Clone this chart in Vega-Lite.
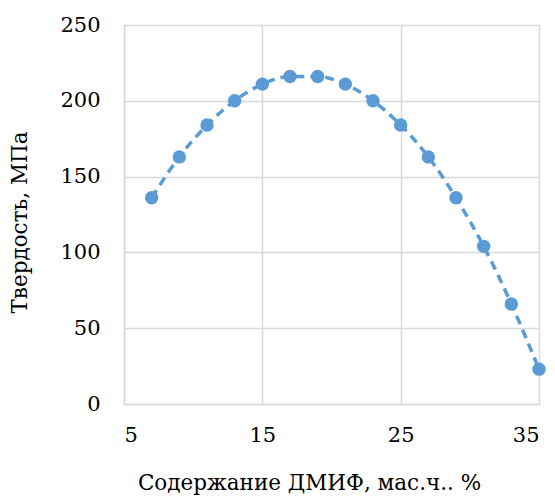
{
  "$schema": "https://vega.github.io/schema/vega-lite/v6.json",
  "autosize": "none",
  "width": 415,
  "height": 379,
  "padding": {"left": 124, "top": 25, "right": 16, "bottom": 93},
  "background": "white",
  "config": {"view": {"stroke": null}, "font": "DejaVu Serif"},
  "data": {"values": [
    {"x": 7, "y": 136}, {"x": 9, "y": 163}, {"x": 11, "y": 184}, {"x": 13, "y": 200},
    {"x": 15, "y": 211}, {"x": 17, "y": 216}, {"x": 19, "y": 216}, {"x": 21, "y": 211},
    {"x": 23, "y": 200}, {"x": 25, "y": 184}, {"x": 27, "y": 163}, {"x": 29, "y": 136},
    {"x": 31, "y": 104}, {"x": 33, "y": 66}, {"x": 35, "y": 23}
  ]},
  "encoding": {
    "x": {"field": "x", "type": "quantitative",
      "scale": {"domain": [5, 35], "nice": false, "zero": false},
      "axis": {"values": [5, 15, 25, 35], "title": "Содержание ДМИФ, мас.ч.. %",
        "labelFont": "DejaVu Serif", "labelFontSize": 21, "labelColor": "#000000",
        "titleFont": "DejaVu Serif", "titleFontSize": 21.5, "titleFontWeight": "normal", "titleColor": "#000000",
        "titleX": 185, "titleY": 85, "titleBaseline": "alphabetic", "titleAlign": "center",
        "ticks": false, "labelPadding": 20,
        "domainColor": "#d9d9d9", "domainWidth": 1.5, "gridColor": "#d9d9d9", "gridWidth": 1.5, "grid": true}},
    "y": {"field": "y", "type": "quantitative",
      "scale": {"domain": [0, 250], "nice": false},
      "axis": {"values": [0, 50, 100, 150, 200, 250], "title": "Твердость, МПа",
        "labelFont": "DejaVu Serif", "labelFontSize": 21, "labelColor": "#000000",
        "titleFont": "DejaVu Serif", "titleFontSize": 21.5, "titleFontWeight": "normal", "titleColor": "#000000",
        "titleY": 197, "titlePadding": 28,
        "ticks": false, "labelPadding": 24,
        "domainColor": "#d9d9d9", "domainWidth": 1.5, "gridColor": "#d9d9d9", "gridWidth": 1.5, "grid": true}}
  },
  "layer": [
    {"mark": {"type": "line", "color": "#5b9bd5", "strokeWidth": 3.5, "strokeDash": [9, 6], "interpolate": "monotone"}},
    {"mark": {"type": "circle", "color": "#5b9bd5", "opacity": 1, "size": 180}}
  ]
}
